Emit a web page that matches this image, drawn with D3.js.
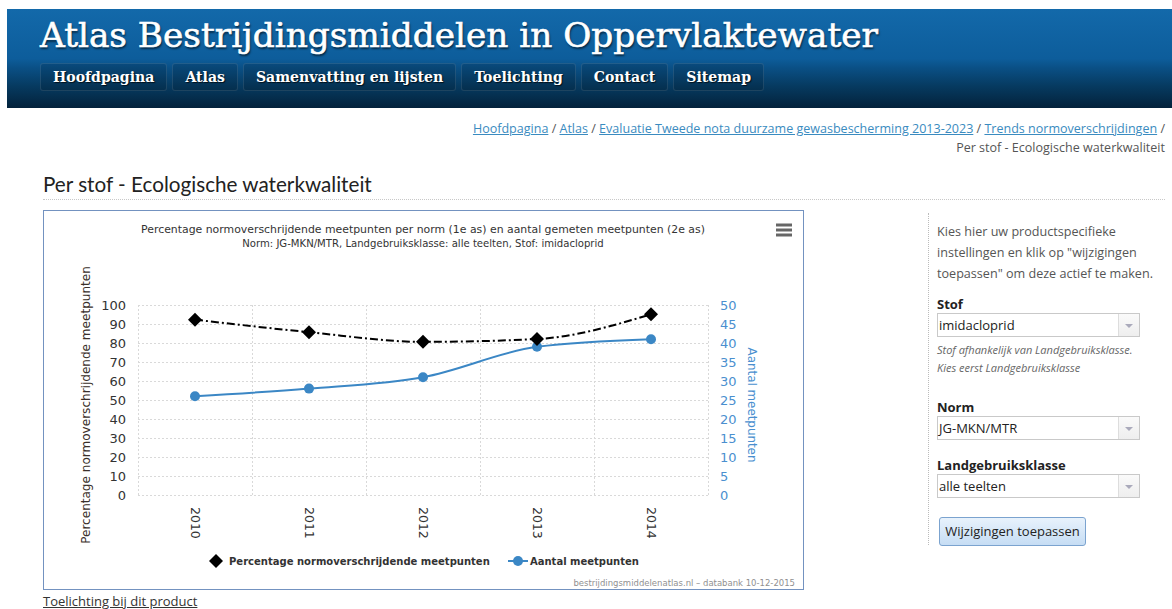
<!DOCTYPE html>
<meta charset="utf-8">
<title>Atlas Bestrijdingsmiddelen in Oppervlaktewater - Per stof</title>
<script src="https://cdn.jsdelivr.net/npm/d3@7/dist/d3.min.js"></script>
<style>
  html, body { margin: 0; padding: 0; background: #fff; width: 1172px; height: 609px; overflow: hidden; }
  body { position: relative; font-family: "Open Sans", "DejaVu Sans", sans-serif; color: #333; }
  #header { position: absolute; left: 7px; top: 9px; width: 1165px; height: 99px;
    background: linear-gradient(to bottom, #1369aa 0%, #0d5d9b 50%, #0a4f84 60%, #063a60 78%, #03223b 100%); }
  #sitetitle { position: absolute; left: 33px; top: 6px; white-space: nowrap; color: #fff;
    font-family: "DejaVu Serif", serif; font-size: 36px; -webkit-text-stroke: 0.6px #fff;
    text-shadow: 1px 2px 2px rgba(0,0,0,0.6); }
  #nav { position: absolute; left: 33px; top: 54px; white-space: nowrap; }
  #nav span { display: inline-block; height: 26px; line-height: 26px; margin-right: 5px; padding: 0 12px;
    background: rgba(0,0,0,0.12); border: 1px solid rgba(255,255,255,0.10); border-radius: 3px;
    color: #fff; font-family: "DejaVu Serif", serif; font-weight: bold; font-size: 16px;
    text-shadow: 1px 1px 1px rgba(0,0,0,0.7); }
  #crumbs { position: absolute; right: 7px; top: 119px; text-align: right; font-size: 13px; line-height: 19px; color: #555; white-space: nowrap; }
  #crumbs a { color: #3a8bc0; text-decoration: underline; }
  #pagehead { position: absolute; left: 43px; top: 172px; font-family: "Lato", sans-serif; font-size: 19px; color: #222; white-space: nowrap; }
  #headline { position: absolute; left: 43px; top: 199px; width: 1122px; border-top: 1px dotted #c8c8c8; }
  #chart { position: absolute; left: 43px; top: 210px; }
  #side { position: absolute; left: 928px; top: 213px; height: 332px; border-left: 1px dotted #bbb; }
  #sidebox { position: absolute; left: 937px; top: 221px; width: 230px; font-size: 13px; color: #555; }
  .intro { line-height: 21px; margin: 0; font-size: 12.6px; }
  .lbl { font-weight: bold; color: #222; margin-top: 12px; height: 18px; line-height: 18px; }
  .sel { position: relative; width: 200px; height: 22px; border: 1px solid #c9c9c9; background: #fff;
    color: #222; line-height: 22px; padding-left: 1px; font-size: 13px; }
  .sel::after { content: ""; position: absolute; right: 0; top: 0; width: 20px; height: 22px; border-left: 1px solid #ddd;
    background: linear-gradient(#fafafa, #eee); }
  .sel i { position: absolute; right: 6px; top: 10px; width: 0; height: 0; z-index: 2;
    border-left: 4px solid transparent; border-right: 4px solid transparent; border-top: 4px solid #aab; }
  .note { font-style: italic; font-size: 11px; color: #666; line-height: 18px; margin-top: 4px; }
  #btn { position: absolute; left: 2px; top: 296px; width: 145px; height: 27px; border: 1px solid #7ba3cf; border-radius: 3px;
    background: linear-gradient(#e8f2fc, #c6ddf4); color: #222; font-size: 13px; text-align: center; line-height: 27px; }
  #foot { position: absolute; left: 43px; top: 592px; font-size: 13px; color: #333; text-decoration: underline; white-space: nowrap; }
</style>
<body>
<div id="header">
  <div id="sitetitle">Atlas Bestrijdingsmiddelen in Oppervlaktewater</div>
  <div id="nav"></div>
</div>
<div id="crumbs"></div>
<div id="pagehead">Per stof - Ecologische waterkwaliteit</div>
<div id="headline"></div>
<svg id="chart"></svg>
<div id="side"></div>
<div id="sidebox">
  <p class="intro">Kies hier uw productspecifieke instellingen en klik op "wijzigingen toepassen" om deze actief te maken.</p>
  <div class="lbl" style="margin-top:11px">Stof</div>
  <div class="sel">imidacloprid<i></i></div>
  <div class="note">Stof afhankelijk van Landgebruiksklasse.<br>Kies eerst Landgebruiksklasse</div>
  <div class="lbl" style="margin-top:21px">Norm</div>
  <div class="sel">JG-MKN/MTR<i></i></div>
  <div class="lbl" style="margin-top:16px">Landgebruiksklasse</div>
  <div class="sel">alle teelten<i></i></div>
  <div id="btn">Wijzigingen toepassen</div>
</div>
<div id="foot">Toelichting bij dit product</div>

<script>
// chart data
var years = ["2010", "2011", "2012", "2013", "2014"];
var pctExceed = [92.3, 85.7, 80.6, 82.1, 95.1];   // % normoverschrijdende meetpunten (1e as)
var nPoints = [26, 28, 31, 39, 41];               // aantal meetpunten (2e as)
var leftTicks = [0, 10, 20, 30, 40, 50, 60, 70, 80, 90, 100];
var rightTicks = [0, 5, 10, 15, 20, 25, 30, 35, 40, 45, 50];

// page texts
var navItems = ["Hoofdpagina", "Atlas", "Samenvatting en lijsten", "Toelichting", "Contact", "Sitemap"];
var crumbLinks = ["Hoofdpagina", "Atlas", "Evaluatie Tweede nota duurzame gewasbescherming 2013-2023", "Trends normoverschrijdingen"];
var crumbCurrent = "Per stof - Ecologische waterkwaliteit";

var titleLines = ["Percentage normoverschrijdende meetpunten per norm (1e as) en aantal gemeten meetpunten (2e as)",
                  "Norm: JG-MKN/MTR, Landgebruiksklasse: alle teelten, Stof: imidacloprid"];
var leftTitle = "Percentage normoverschrijdende meetpunten",
    rightTitle = "Aantal meetpunten",
    credits = "bestrijdingsmiddelenatlas.nl \u2013 databank 10-12-2015";

var blue = "#3b87c5", blueText = "#4a8fcf";

// --- page chrome
function fitHtml(sel, w) {
  var el = d3.select(sel).node();
  var fs = parseFloat(getComputedStyle(el).fontSize);
  var cur = el.getBoundingClientRect().width;
  el.style.fontSize = (fs * w / cur) + "px";
}

d3.select("#nav").selectAll("span")
  .data(navItems)
  .enter().append("span")
  .text(function(d) { return d; });

(function() {
  // scale nav font so the texts take the width they do in the original
  var spans = d3.selectAll("#nav span").nodes();
  spans.forEach(function(s) { s.style.padding = "0"; });
  var total = d3.sum(spans, function(s) { return s.getBoundingClientRect().width; });
  var fs = 16 * 554 / total;
  spans.forEach(function(s) { s.style.fontSize = fs + "px"; s.style.padding = "0 12px"; });
})();
fitHtml("#sitetitle", 838);

var crumbs = d3.select("#crumbs");
var line1 = crumbs.append("div").attr("id", "crumb1");
crumbLinks.forEach(function(c, i) {
  line1.append("a").text(c);
  line1.append("span").text(" / ");
});
crumbs.append("div").attr("id", "crumb2").text(crumbCurrent);
(function() {
  var el = d3.select("#crumb1").node();
  el.style.display = "inline-block";
  var w = el.getBoundingClientRect().width;
  var fs = 13 * 693 / w;
  crumbs.style("font-size", fs + "px");
  el.style.display = "block";
})();
fitHtml("#pagehead", 329);

// --- chart
var W = 761, H = 380;
var svg = d3.select("#chart").attr("width", W).attr("height", H)
  .style("font-family", "'DejaVu Sans', sans-serif");

svg.append("rect")
  .attr("x", 0.5).attr("y", 0.5).attr("width", W - 1).attr("height", H - 1)
  .attr("fill", "#fff").attr("stroke", "#7392c0");

var plot = { left: 95, right: 665, top: 95, bottom: 285 };

var x = d3.scaleBand().domain(years).range([plot.left, plot.right]);
var yL = d3.scaleLinear().domain([0, 100]).range([plot.bottom, plot.top]);
var yR = d3.scaleLinear().domain([0, 50]).range([plot.bottom, plot.top]);

function fitSvg(t, w) {
  var fs = parseFloat(t.attr("font-size"));
  t.attr("font-size", fs * w / t.node().getComputedTextLength());
}

// grid
svg.append("g").selectAll("line")
  .data(leftTicks)
  .enter().append("line")
  .attr("x1", plot.left).attr("x2", plot.right)
  .attr("y1", function(d) { return Math.round(yL(d)) + 0.5; })
  .attr("y2", function(d) { return Math.round(yL(d)) + 0.5; })
  .attr("stroke", "#d9d9d9").attr("stroke-dasharray", "2,2");

svg.append("g").selectAll("line")
  .data(years.concat(["end"]))
  .enter().append("line")
  .attr("x1", function(d, i) { return Math.round(i < years.length ? x(d) : x.range()[1]) + 0.5; })
  .attr("x2", function(d, i) { return Math.round(i < years.length ? x(d) : x.range()[1]) + 0.5; })
  .attr("y1", plot.top).attr("y2", plot.bottom)
  .attr("stroke", "#d9d9d9").attr("stroke-dasharray", "2,2");

// axes
var axL = svg.append("g").attr("transform", "translate(" + (plot.left - 10) + ",0)")
  .call(d3.axisLeft(yL).tickValues(leftTicks).tickSize(0).tickPadding(2));
axL.select(".domain").remove();
axL.selectAll("text").attr("font-size", 13).attr("fill", "#333").attr("font-family", "'DejaVu Sans', sans-serif");

var axR = svg.append("g").attr("transform", "translate(" + (plot.right + 10) + ",0)")
  .call(d3.axisRight(yR).tickValues(rightTicks).tickSize(0).tickPadding(2));
axR.select(".domain").remove();
axR.selectAll("text").attr("font-size", 13).attr("fill", blueText).attr("font-family", "'DejaVu Sans', sans-serif");

var axB = svg.append("g").attr("transform", "translate(0," + (plot.bottom + 12) + ")")
  .call(d3.axisBottom(x).tickSize(0));
axB.select(".domain").remove();
axB.selectAll("text")
  .attr("font-size", 12.5).attr("fill", "#333").attr("font-family", "'DejaVu Sans', sans-serif")
  .attr("text-anchor", "start").attr("y", 0).attr("dy", "0.35em")
  .attr("transform", "rotate(90)");

// axis titles
var tl = svg.append("text")
  .attr("transform", "translate(47," + ((plot.top + plot.bottom) / 2 + 5) + ") rotate(-90)")
  .attr("text-anchor", "middle").attr("font-size", 12).attr("fill", "#3a2f2a")
  .text(leftTitle);
fitSvg(tl, 278);

var tr = svg.append("text")
  .attr("transform", "translate(705," + ((plot.top + plot.bottom) / 2 + 5) + ") rotate(90)")
  .attr("text-anchor", "middle").attr("font-size", 12).attr("fill", blueText)
  .text(rightTitle);
fitSvg(tr, 115);

// title
svg.append("g").selectAll("text")
  .data(titleLines)
  .enter().append("text")
  .attr("x", 380).attr("y", function(d, i) { return 23 + i * 14; })
  .attr("text-anchor", "middle").attr("font-size", 11).attr("fill", "#333")
  .text(function(d) { return d; })
  .each(function(d, i) { fitSvg(d3.select(this), i === 0 ? 565 : 362); });

// menu button
svg.append("g").selectAll("line")
  .data([15, 20, 25])
  .enter().append("line")
  .attr("x1", 733).attr("x2", 749).attr("y1", function(d) { return d; }).attr("y2", function(d) { return d; })
  .attr("stroke", "#666").attr("stroke-width", 3);

// series
var cx = function(d, i) { return x(years[i]) + x.bandwidth() / 2; };

svg.append("path")
  .datum(nPoints)
  .attr("fill", "none").attr("stroke", blue).attr("stroke-width", 2)
  .attr("d", d3.line().x(cx).y(function(d) { return yR(d); }).curve(d3.curveMonotoneX));

svg.append("path")
  .datum(pctExceed)
  .attr("fill", "none").attr("stroke", "#000").attr("stroke-width", 2)
  .attr("stroke-dasharray", "8,3,2,3")
  .attr("d", d3.line().x(cx).y(function(d) { return yL(d); }).curve(d3.curveMonotoneX));

var diamond = "M0,-7L7,0L0,7L-7,0Z";

svg.append("g").selectAll("circle")
  .data(nPoints)
  .enter().append("circle")
  .attr("cx", cx).attr("cy", function(d) { return yR(d); })
  .attr("r", 5).attr("fill", blue);

svg.append("g").selectAll("path")
  .data(pctExceed)
  .enter().append("path")
  .attr("d", diamond)
  .attr("transform", function(d, i) { return "translate(" + cx(d, i) + "," + yL(d) + ")"; })
  .attr("fill", "#000");

// legend
var lg = svg.append("g").attr("transform", "translate(0,351)");
lg.append("path").attr("d", diamond).attr("transform", "translate(173,0)").attr("fill", "#000");
var lt1 = lg.append("text").attr("x", 186).attr("dy", "0.35em").attr("font-size", 12).attr("font-weight", "bold")
  .attr("fill", "#333").text("Percentage normoverschrijdende meetpunten");
fitSvg(lt1, 261);
lg.append("line").attr("x1", 465).attr("x2", 485).attr("stroke", blue).attr("stroke-width", 2);
lg.append("circle").attr("cx", 475).attr("r", 5).attr("fill", blue);
var lt2 = lg.append("text").attr("x", 487).attr("dy", "0.35em").attr("font-size", 12).attr("font-weight", "bold")
  .attr("fill", "#333").text(rightTitle);
fitSvg(lt2, 109);

// credits
var cr = svg.append("text").attr("x", 752).attr("y", 376).attr("text-anchor", "end")
  .attr("font-size", 9).attr("fill", "#909090").text(credits);
fitSvg(cr, 222);
</script>
</body>
